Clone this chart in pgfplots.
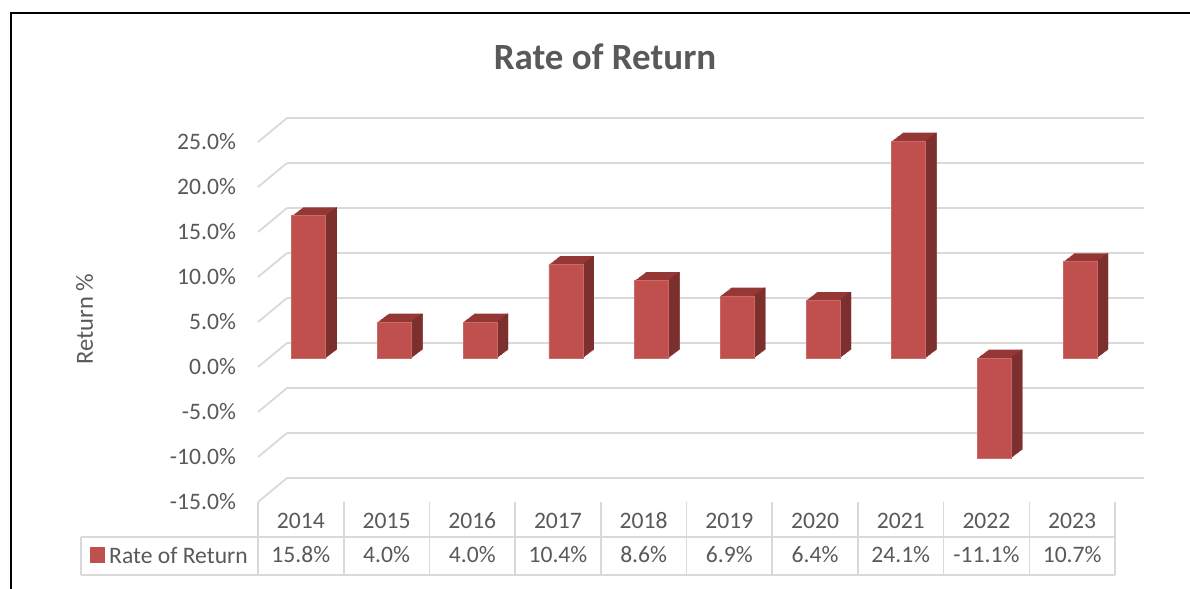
\documentclass[border=0pt]{standalone}
\usepackage{fontspec}
\setmainfont{Carlito}
\usepackage{pgfplots}
\usepackage{pgfplotstable}
\pgfplotsset{compat=1.18}

\definecolor{barfront}{HTML}{C0504D}
\definecolor{bartop}{HTML}{953735}
\definecolor{barside}{HTML}{7C302E}
\definecolor{txtgray}{HTML}{595959}
\definecolor{gridgray}{HTML}{D9D9D9}

\pgfplotstableread{
x year ret
0 2014 15.8
1 2015 4.0
2 2016 4.0
3 2017 10.4
4 2018 8.6
5 2019 6.9
6 2020 6.4
7 2021 24.1
8 2022 -11.1
9 2023 10.7
}\rordata

\begin{document}
\begin{tikzpicture}
% 1 px of the reference = 0.5pt, origin at top left
\path[use as bounding box] (0,0) rectangle (595pt,-294.5pt);
\draw[line width=1pt] (5.5pt,-294.5pt) -- (5.5pt,-6.6pt) -- (595pt,-6.6pt);

\begin{axis}[
    at={(129pt,-251pt)}, anchor=south west,
    scale only axis, width=428.5pt, height=180pt,
    clip=false,
    xmin=-0.5, xmax=9.5, ymin=-15, ymax=25,
    xtick={0,...,9}, ytick={-15,-10,...,25},
    axis line style={draw=none}, tick style={draw=none},
    ymajorgrids,
    major grid style={draw=gridgray, line width=0.9pt, xshift=14.5pt, yshift=12pt},
    /pgf/number format/assume math mode=true,
    yticklabel={\pgfmathprintnumber[fixed,fixed zerofill,precision=1]{\tick}\%},
    yticklabel style={font=\fontsize{11.8}{14}\selectfont, text=txtgray, xshift=-7.5pt},
    xticklabels from table={\rordata}{year},
    xticklabel style={font=\fontsize{11.8}{14}\selectfont, text=txtgray, anchor=center, yshift=-9.5pt},
    title={Rate of Return},
    title style={at={(axis description cs:0.4049,1.203)}, anchor=center,
        font=\bfseries\fontsize{18.5}{22}\selectfont, text=txtgray},
    ylabel={Return \%},
    ylabel style={at={(axis description cs:-0.2024,0.508)}, anchor=center,
        font=\fontsize{12.3}{14}\selectfont, text=txtgray},
    legend style={at={(axis description cs:-0.196,-0.1515)}, anchor=west,
        draw=none, fill=none, inner sep=0pt, font=\fontsize{11.8}{14}\selectfont,
        text=txtgray, nodes={inner sep=0pt}},
    legend image code/.code={\fill[barfront] (0pt,-7.5pt) rectangle (7pt,0pt); \path (9pt,0pt);},
]
% depth of the columns: copies pushed back and up
\pgfplotsinvokeforeach{12,11,...,1}{
  \addplot[ybar, bar width=17pt, bar shift=0pt, fill=bartop, draw=none, forget plot,
    xshift={4pt+#1*0.4583pt}, yshift={4.5pt+#1*0.35pt}]
    table[x=x, y=ret] {\rordata};
}
\pgfplotsinvokeforeach{12,11,...,1}{
  \addplot[ybar, bar width=0.6pt, bar shift=0pt, fill=barside, draw=none, forget plot,
    xshift={4pt+8.2pt+#1*0.4583pt}, yshift={4.5pt+#1*0.35pt}]
    table[x=x, y=ret] {\rordata};
}
\addplot[ybar, bar width=17pt, bar shift=0pt, fill=barfront, draw=barfront!85!white,
    line width=0.4pt, xshift=4pt, yshift=4.5pt]
    table[x=x, y=ret] {\rordata};
\addlegendentry{Rate of Return}
% value row of the data table
\addplot[draw=none, mark=none, forget plot, point meta=explicit,
    nodes near coords={\pgfmathprintnumber[fixed,fixed zerofill,precision=1]{\pgfplotspointmeta}\%},
    every node near coord/.append style={font=\fontsize{11.8}{14}\selectfont, text=txtgray,
        anchor=center, yshift=-26.25pt}]
    table[x=x, y expr=-15, meta=ret] {\rordata};
\end{axis}

% front ends of the gridlines
\foreach \k in {0,...,8}
  \draw[gridgray, line width=0.9pt] (129pt,{-71pt-\k*22.5pt}) -- ++(14.5pt,12pt);

% data table lines
\begin{scope}[gridgray, line width=0.8pt]
\foreach \i in {0,...,10}
  \draw ({129pt+\i*42.85pt},-251pt) -- ({129pt+\i*42.85pt},-287.5pt);
\draw (40.35pt,-268.5pt) -- (557.5pt,-268.5pt);
\draw (40.35pt,-287.5pt) -- (557.5pt,-287.5pt);
\draw (40.35pt,-268.5pt) -- (40.35pt,-287.5pt);
\end{scope}
\end{tikzpicture}
\end{document}
